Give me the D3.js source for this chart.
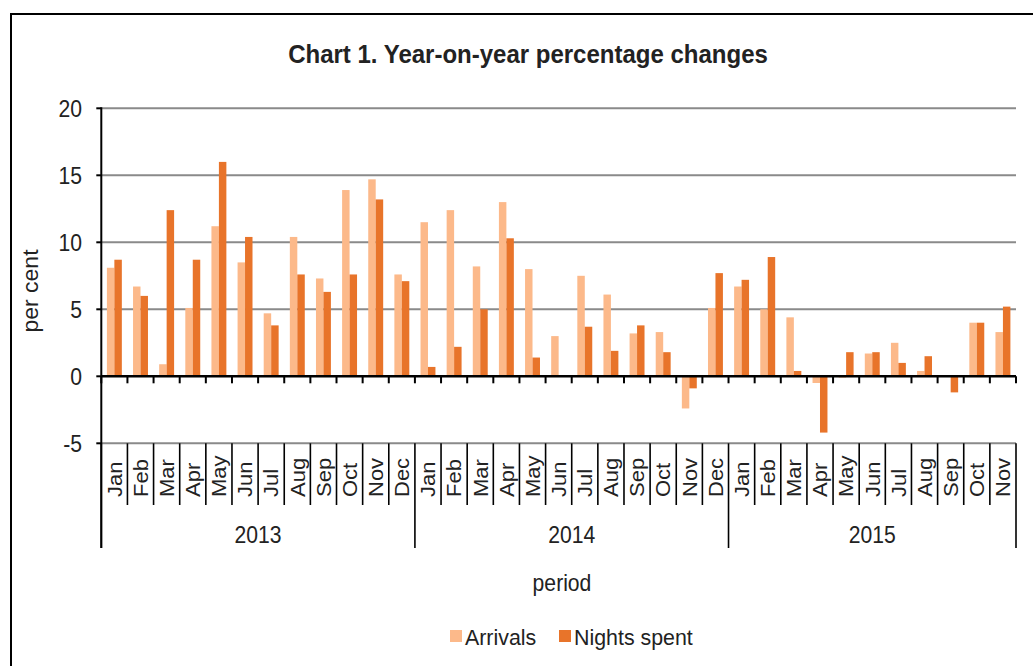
<!DOCTYPE html>
<html><head><meta charset="utf-8">
<script src="https://cdn.jsdelivr.net/npm/d3@7"></script>
<style>
body{margin:0;background:#fff}
svg{display:block}
text{font-family:"Liberation Sans",Arial,sans-serif;fill:#222}
</style>
</head><body>
<svg id="c" width="1033" height="666"></svg>
<script>
const monthNames=["Jan","Feb","Mar","Apr","May","Jun","Jul","Aug","Sep","Oct","Nov","Dec"];
const years=["2013","2014","2015"];
const yearCounts=[12,12,11];
const periods=[].concat(...yearCounts.map(n=>monthNames.slice(0,n)));
const arrivals=[8.1,6.7,0.9,5.1,11.2,8.5,4.7,10.4,7.3,13.9,14.7,7.6,
                11.5,12.4,8.2,13.0,8.0,3.0,7.5,6.1,3.2,3.3,-2.4,5.1,
                6.7,5.0,4.4,-0.5,-0.1,1.7,2.5,0.4,0,4.0,3.3];
const nights=[8.7,6.0,12.4,8.7,16.0,10.4,3.8,7.6,6.3,7.6,13.2,7.1,
              0.7,2.2,5.0,10.3,1.4,0,3.7,1.9,3.8,1.8,-0.9,7.7,
              7.2,8.9,0.4,-4.2,1.8,1.8,1.0,1.5,-1.2,4.0,5.2];
const yTicks=[-5,0,5,10,15,20];
const seriesNames=["Arrivals","Nights spent"];
const colors=["#FCB98A","#E8742A"];
const titleText="Chart 1. Year-on-year percentage changes";

const svg=d3.select("#c");
const X0=101.3,X1=1016,Y0=443.3,Y1=108.3;
const SX=0.92;

svg.append("rect").attr("x",11).attr("y",14).attr("width",1100).attr("height",700)
  .attr("fill","none").attr("stroke","#000").attr("stroke-width",2);

function txt(x,y,s,o={}){
  const size=o.size||23, sx=o.sx||SX;
  return svg.append("text")
    .attr("transform",`translate(${x},${y}) scale(${sx},1)`+(o.rot?` rotate(${o.rot})`:""))
    .attr("text-anchor",o.anchor||"start")
    .attr("dy",o.dy||0)
    .style("font-size",size+"px")
    .style("font-weight",o.weight||"normal")
    .text(s);
}

const x=d3.scaleBand().domain(d3.range(periods.length)).range([X0,X1]).paddingInner(0).paddingOuter(0);
const inner=d3.scaleBand().domain([0,1]).range([0,x.bandwidth()]).paddingInner(0).paddingOuter(0.75);
const y=d3.scaleLinear().domain([-5,20]).range([Y0,Y1]);

// gridlines
svg.append("g").selectAll("line").data(yTicks.filter(v=>v!==0)).join("line")
  .attr("x1",X0).attr("x2",X1).attr("y1",d=>y(d)).attr("y2",d=>y(d))
  .attr("stroke","#8a8a8a").attr("stroke-width",2);

// bars
const series=[arrivals,nights];
series.forEach((vals,si)=>{
  svg.append("g").selectAll("rect").data(vals).join("rect")
    .attr("x",(d,i)=>x(i)+inner(si))
    .attr("width",inner.bandwidth())
    .attr("y",d=>y(Math.max(0,d)))
    .attr("height",d=>Math.abs(y(d)-y(0)))
    .attr("fill",colors[si]);
});

// zero line
svg.append("line").attr("x1",X0).attr("x2",X1).attr("y1",y(0)).attr("y2",y(0))
  .attr("stroke","#000").attr("stroke-width",2.5);
// zero-line ticks
svg.append("g").selectAll("line").data(d3.range(periods.length+1)).join("line")
  .attr("x1",i=>X0+i*x.step()).attr("x2",i=>X0+i*x.step())
  .attr("y1",y(0)).attr("y2",y(0)+7).attr("stroke","#000").attr("stroke-width",2);

// y axis
svg.append("line").attr("x1",X0).attr("x2",X0).attr("y1",y(20)-1).attr("y2",548)
  .attr("stroke","#000").attr("stroke-width",2);
svg.append("g").selectAll("line").data(yTicks).join("line")
  .attr("x1",X0-5).attr("x2",X0).attr("y1",d=>y(d)).attr("y2",d=>y(d))
  .attr("stroke","#000").attr("stroke-width",2);
yTicks.forEach(v=>txt(82,y(v)+8.7,String(v),{anchor:"end"}));

// category separators
const yearStarts=[0];
yearCounts.forEach(n=>yearStarts.push(yearStarts[yearStarts.length-1]+n));
svg.append("g").selectAll("line").data(d3.range(periods.length+1)).join("line")
  .attr("x1",i=>X0+i*x.step()).attr("x2",i=>X0+i*x.step())
  .attr("y1",Y0).attr("y2",i=>yearStarts.includes(i)?548:505)
  .attr("stroke","#000").attr("stroke-width",1.6);

periods.forEach((m,i)=>txt(x(i)+x.bandwidth()/2,497,m,{size:22,rot:-90,dy:"0.36em"}));
years.forEach((yr,k)=>{
  const cx=X0+(yearStarts[k]+yearStarts[k+1])/2*x.step();
  txt(cx,543,yr,{anchor:"middle"});
});

// titles
txt(528,63,titleText,{size:25,weight:"bold",anchor:"middle",sx:0.96});
txt(38,291,"per cent",{rot:-90,anchor:"middle"});
txt(562,591,"period",{anchor:"middle"});

// legend
const lx=[450,559];
seriesNames.forEach((s,i)=>{
  svg.append("rect").attr("x",lx[i]).attr("y",630).attr("width",12).attr("height",12).attr("fill",colors[i]);
  txt(lx[i]+15,645,s,{sx:0.93});
});
</script>
</body></html>
